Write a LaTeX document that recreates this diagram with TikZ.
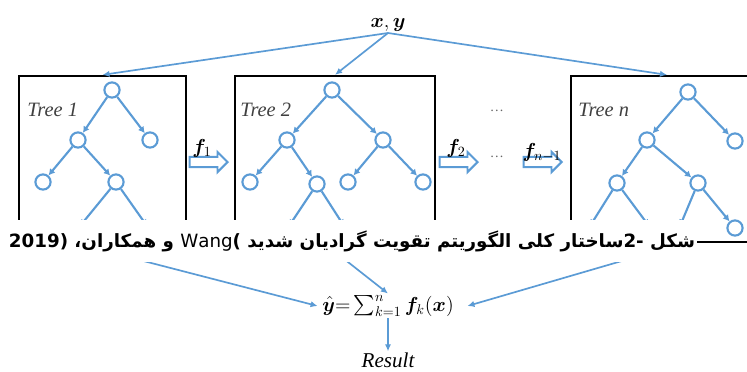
\documentclass[tikz,border=0pt]{standalone}
\usepackage{amsmath,bm}
\usepackage{graphicx}
\usepackage{fontspec}
\usetikzlibrary{arrows.meta,positioning,shapes.arrows,calc}
\usepackage{xcolor}
\setmainfont{Liberation Serif}
\newfontfamily\arabicfont[Script=Arabic]{DejaVu Sans}
\TeXXeTstate=1
\definecolor{treeblue}{RGB}{91,155,213}

\begin{document}
\begin{tikzpicture}[x=0.025cm, y=-0.025cm, >=Latex,
  nd/.style={circle, draw=treeblue, line width=1.5pt, minimum size=0.38cm, inner sep=0pt},
  link/.style={-{Latex[length=4.5pt,width=5pt]}, draw=treeblue, line width=1.5pt},
  feed/.style={-{Latex[length=5pt,width=4.5pt]}, draw=treeblue, line width=1.2pt},
  tbox/.style={draw, line width=1.6pt, inner sep=0pt},
  tlabel/.style={font=\fontsize{14.5}{16}\selectfont\itshape, text=black!75, anchor=west, inner sep=0pt},
  farrow/.style={single arrow, draw=treeblue, line width=1.4pt, fill=white, inner sep=3pt,
    single arrow head extend=3.5pt, minimum height=0.95cm},
  flabel/.style={font=\Large, inner sep=0pt}]
  \useasboundingbox (0,0) rectangle (747,371);
  \clip (0,0) rectangle (747,371);
  % the three boxes
  \node[tbox, minimum width=4.175cm, minimum height=4.15cm] (box1) at (102.5,159) {};
  \node[tbox, minimum width=5cm, minimum height=4.15cm] (box2) at (335,159) {};
  \node[tbox, minimum width=4.8cm, minimum height=4.15cm] (boxn) at (667,159) {};
  \node[tlabel] (lab1) at (27,110) {Tree 1};
  \node[tlabel] (lab2) at (240,110) {Tree 2};
  \node[tlabel] (labn) at (578,110) {Tree \textit{n}};
  % input
  \node[anchor=south, inner sep=1pt, font=\Large] (xy) at (388,33) {$\bm{x},\bm{y}$};
  \draw[feed] (xy.south) -- (box1.north);
  \draw[feed] (xy.south) -- (box2.north);
  \draw[feed] (xy.south) -- (boxn.north);
  % tree 1
  \node[nd] (t1root) at (112,90) {};
  \node[nd] (t1l) at (78,140) {};
  \node[nd] (t1r) at (150,140) {};
  \node[nd] (t1ll) at (43,182) {};
  \node[nd] (t1lr) at (116,182) {};
  \coordinate (t1lrl) at (80,226);
  \coordinate (t1lrr) at (147,226);
  \draw[link] (t1root) -- (t1l);
  \draw[link] (t1root) -- (t1r);
  \draw[link] (t1l) -- (t1ll);
  \draw[link] (t1l) -- (t1lr);
  \draw[link] (t1lr) -- (t1lrl);
  \draw[link] (t1lr) -- (t1lrr);
  % tree 2
  \node[nd] (t2root) at (332,90) {};
  \node[nd] (t2l) at (287,140) {};
  \node[nd] (t2r) at (383,140) {};
  \node[nd] (t2ll) at (250,182) {};
  \node[nd] (t2lr) at (317,184) {};
  \node[nd] (t2rl) at (348,182) {};
  \node[nd] (t2rr) at (423,182) {};
  \coordinate (t2lrl) at (289,226);
  \coordinate (t2lrr) at (344,226);
  \draw[link] (t2root) -- (t2l);
  \draw[link] (t2root) -- (t2r);
  \draw[link] (t2l) -- (t2ll);
  \draw[link] (t2l) -- (t2lr);
  \draw[link] (t2r) -- (t2rl);
  \draw[link] (t2r) -- (t2rr);
  \draw[link] (t2lr) -- (t2lrl);
  \draw[link] (t2lr) -- (t2lrr);
  % tree n
  \node[nd] (tnroot) at (688,92) {};
  \node[nd] (tnl) at (647,140) {};
  \node[nd] (tnr) at (735,141) {};
  \node[nd] (tnll) at (617,183) {};
  \node[nd] (tnlr) at (698,183) {};
  \node[nd] (tnlrr) at (735,228) {};
  \coordinate (tnlll) at (590,226);
  \coordinate (tnllr) at (649,226);
  \coordinate (tnlrl) at (680,226);
  \draw[link] (tnroot) -- (tnl);
  \draw[link] (tnroot) -- (tnr);
  \draw[link] (tnl) -- (tnll);
  \draw[link] (tnl) -- (tnlr);
  \draw[link] (tnll) -- (tnlll);
  \draw[link] (tnll) -- (tnllr);
  \draw[link] (tnlr) -- (tnlrl);
  \draw[link] (tnlr) -- (tnlrr);
  % boosting steps
  \node[farrow] (f1) at (206,162) {};
  \node[farrow] (f2) at (456,162) {};
  \node[farrow] (fn) at (540,162) {};
  \node[flabel] (f1lab) at (202,148) {$\bm{f}_{1}$};
  \node[flabel] (f2lab) at (456,148) {$\bm{f}_{2}$};
  \node[flabel] (fnlab) at (542,153) {$\bm{f}_{n-1}$};
  \node[text=black!60] (dots1) at (497,111) {\dots};
  \node[text=black!60] (dots2) at (497,157) {\dots};
  % output
  \node[font=\Large, inner sep=1pt] (sum) at (388,306) {$\hat{\bm{y}}{=}\sum_{k=1}^{n}\bm{f}_{k}(\bm{x})$};
  \node[below=0.82cm of sum, font=\fontsize{15}{17}\selectfont\itshape, inner sep=1pt] (res) {Result};
  \draw[feed] ($(box1.south)+(-28,0)$) -- ($(sum.west)+(-3,0)$);
  \draw[feed] ($(box2.south)+(-11,0)$) -- (sum.north);
  \draw[feed] ($(boxn.south)+(16,0)$) -- ($(sum.east)+(12,0)$);
  \draw[feed] (sum) -- (res);
  % caption
  \node[fill=white, minimum width=17.25cm, minimum height=1.05cm, inner sep=0pt,
    font=\arabicfont\bfseries\fontsize{13}{16}\selectfont] (cap) at (352,241)
    {\resizebox{17.15cm}{\height}{\beginR شکل \beginL -2\endL{}ساختار کلی الگوریتم تقویت گرادیان شدید \beginL{\mdseries Wang})\endL{} و همکاران، \beginL (2019\endL\endR}};
\end{tikzpicture}
\end{document}
